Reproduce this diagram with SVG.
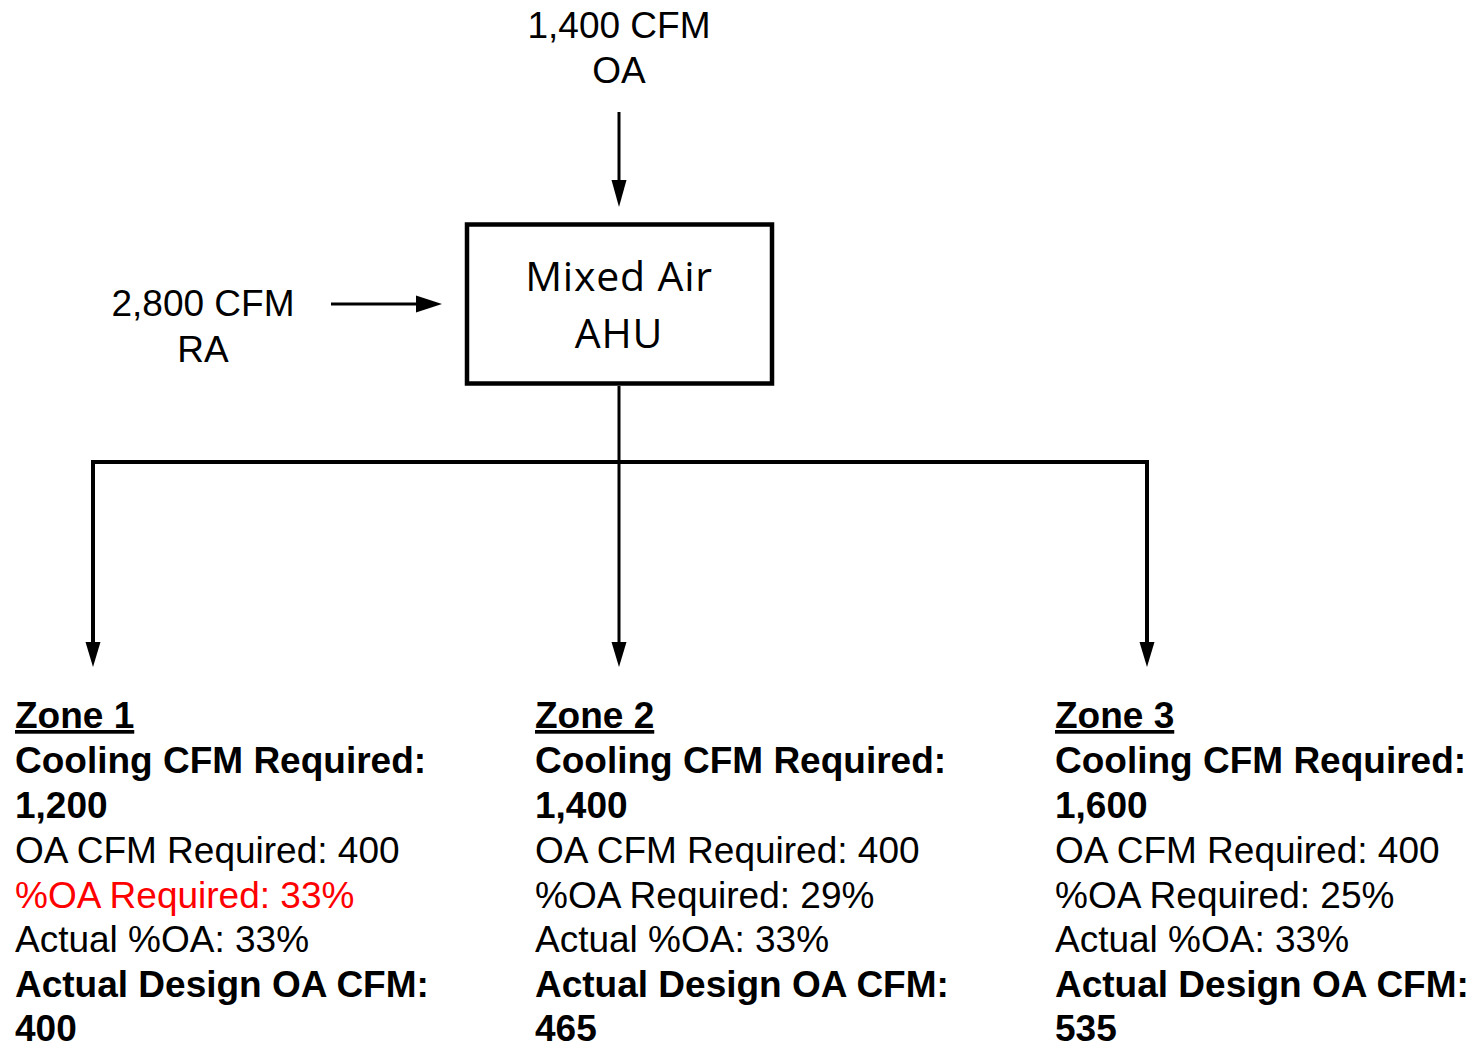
<svg xmlns="http://www.w3.org/2000/svg" width="1479" height="1044" viewBox="0 0 1479 1044">
<style>
.t{font-family:"Liberation Sans",Arial,sans-serif;font-size:37px;fill:#000}
.b{font-weight:bold}
.u{text-decoration:underline}
.red{fill:#ff0000}
.box{font-family:"Open Sans","Noto Sans",sans-serif;font-size:41px;letter-spacing:0.8px;fill:#000}
.ln{stroke:#000;stroke-width:3;fill:none}
.hd{fill:#000}
</style>
<rect width="1479" height="1044" fill="#fff"/>
<g id="oa-label">
<text class="t" x="619" y="38" text-anchor="middle">1,400 CFM</text>
<text class="t" x="619" y="83" text-anchor="middle">OA</text>
</g>
<g id="ra-label">
<text class="t" x="203" y="316" text-anchor="middle">2,800 CFM</text>
<text class="t" x="203" y="362" text-anchor="middle">RA</text>
</g>
<g id="ahu">
<rect x="467" y="224.5" width="305" height="159" fill="#fff" stroke="#000" stroke-width="4.5"/>
<text class="box" x="619" y="291" text-anchor="middle">Mixed Air</text>
<text class="box" x="619" y="348" text-anchor="middle">AHU</text>
</g>
<g id="connectors">
<line class="ln" x1="619" y1="112" x2="619" y2="185"/>
<polygon class="hd" points="611.5,180 626.5,180 619,207"/>
<line class="ln" x1="331" y1="304" x2="420" y2="304"/>
<polygon class="hd" points="416,295.5 416,312.5 442,304"/>
<line class="ln" x1="619" y1="386" x2="619" y2="648"/>
<polyline fill="none" stroke="#000" stroke-width="4" points="93,648 93,462 1147,462 1147,648"/>
<polygon class="hd" points="85.5,642 100.5,642 93,667"/>
<polygon class="hd" points="611.5,642 626.5,642 619,667"/>
<polygon class="hd" points="1139.5,642 1154.5,642 1147,667"/>
</g>
<g id="zone1">
<text class="t b u" x="15" y="728">Zone 1</text>
<text class="t b" x="15" y="773">Cooling CFM Required:</text>
<text class="t b" x="15" y="818">1,200</text>
<text class="t" x="15" y="863">OA CFM Required: 400</text>
<text class="t red" x="15" y="908">%OA Required: 33%</text>
<text class="t" x="15" y="952">Actual %OA: 33%</text>
<text class="t b" x="15" y="997">Actual Design OA CFM:</text>
<text class="t b" x="15" y="1041">400</text>
</g>
<g id="zone2">
<text class="t b u" x="535" y="728">Zone 2</text>
<text class="t b" x="535" y="773">Cooling CFM Required:</text>
<text class="t b" x="535" y="818">1,400</text>
<text class="t" x="535" y="863">OA CFM Required: 400</text>
<text class="t" x="535" y="908">%OA Required: 29%</text>
<text class="t" x="535" y="952">Actual %OA: 33%</text>
<text class="t b" x="535" y="997">Actual Design OA CFM:</text>
<text class="t b" x="535" y="1041">465</text>
</g>
<g id="zone3">
<text class="t b u" x="1055" y="728">Zone 3</text>
<text class="t b" x="1055" y="773">Cooling CFM Required:</text>
<text class="t b" x="1055" y="818">1,600</text>
<text class="t" x="1055" y="863">OA CFM Required: 400</text>
<text class="t" x="1055" y="908">%OA Required: 25%</text>
<text class="t" x="1055" y="952">Actual %OA: 33%</text>
<text class="t b" x="1055" y="997">Actual Design OA CFM:</text>
<text class="t b" x="1055" y="1041">535</text>
</g>
</svg>
